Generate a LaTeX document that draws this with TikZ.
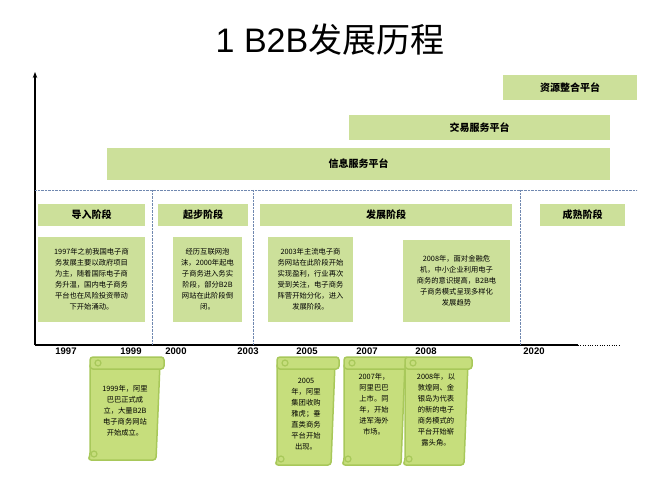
\documentclass[tikz,border=0pt]{standalone}
\usepackage{fontspec}
\setmainfont{Liberation Sans}
\newfontfamily\cjk{Noto Sans CJK SC}
\usetikzlibrary{arrows.meta}
\definecolor{gfill}{HTML}{CCE09A}
\definecolor{sfill}{HTML}{C6DE7C}
\definecolor{sline}{HTML}{A8C85A}
\definecolor{dline}{HTML}{7088B0}
\tikzset{
 bar/.style={fill=gfill,draw=none,inner sep=0,font=\cjk\fontsize{10}{12}\selectfont\bfseries},
 txt/.style={fill=gfill,draw=none,align=center,inner sep=0,font=\cjk\fontsize{7.3}{11}\selectfont},
 yr/.style={font=\fontsize{9.5}{10}\selectfont\bfseries,anchor=north,inner sep=0},
 scr/.style={fill=sfill,draw=sline,line width=1.5pt,rounded corners=3pt},
 stxt/.style={align=center,font=\cjk\fontsize{7.3}{11}\selectfont},
}
\begin{document}
\begin{tikzpicture}[x=1pt,y=-1pt]
\useasboundingbox (0,0) rectangle (663,478);
\node (title) at (330,40) {\fontsize{34}{38}\selectfont 1 B2B{\cjk 发展历程}};
% axes
\coordinate (o) at (35,345);
\coordinate (top) at (35,72);
\coordinate (xe) at (578,345);
\coordinate (xd) at (620,345);
\draw[line width=1.5pt,-{Stealth[length=6pt]}] (o) -- (top);
\draw[line width=1.2pt] (o) -- (xe);
\draw[dotted] (xe) -- (xd);
\coordinate (dl) at (35,190); \coordinate (dr) at (637,190);
\draw[densely dotted,dline] (dl) -- (dr);
\foreach \x/\n in {152/a,253/b,520/c}{
 \coordinate (t\n) at (\x,190); \coordinate (b\n) at (\x,345);
 \draw[densely dotted,dline] (t\n) -- (b\n);}
% bars
\node[bar,minimum width=134,minimum height=25] (p1) at (570,87.5) {资源整合平台};
\node[bar,minimum width=261,minimum height=25] (p2) at (479.5,127.5) {交易服务平台};
\node[bar,minimum width=503,minimum height=32] (p3) at (358.5,164) {信息服务平台};
% stages
\node[bar,minimum width=107,minimum height=22] (s1) at (91.5,215) {导入阶段};
\node[bar,minimum width=90,minimum height=22] (s2) at (203,215) {起步阶段};
\node[bar,minimum width=252,minimum height=22] (s3) at (386,215) {发展阶段};
\node[bar,minimum width=85,minimum height=22] (s4) at (582.5,215) {成熟阶段};
% texts
\node[txt,minimum width=107,minimum height=85] (d1) at (91.5,279.5) {1997年之前我国电子商\\务发展主要以政府项目\\为主，随着国际电子商\\务升温，国内电子商务\\平台也在风险投资带动\\下开始涌动。};
\node[txt,minimum width=69,minimum height=85] (d2) at (207.5,279.5) {经历互联网泡\\沫，2000年起电\\子商务进入务实\\阶段，部分B2B\\网站在此阶段倒\\闭。};
\node[txt,minimum width=85,minimum height=85] (d3) at (310.5,279.5) {2003年主流电子商\\务网站在此阶段开始\\实现盈利，行业再次\\受到关注，电子商务\\阵营开始分化，进入\\发展阶段。};
\node[txt,minimum width=107,minimum height=82] (d4) at (456.5,281) {2008年，面对金融危\\机，中小企业利用电子\\商务的意识提高，B2B电\\子商务模式呈现多样化\\发展趋势};
% years
\foreach \x/\y/\n in {66/1997/y1,131/1999/y2,176/2000/y3,248/2003/y4,307/2005/y5,367/2007/y6,426/2008/y7,534/2020/y8}
 \node[yr] (\n) at (\x,348) {\y};
% scrolls
\foreach \xa/\xb/\yb/\n in {88/160/460/r1,275/335/465/r2,342/405/465/r3,403/468/465/r4}{
 \draw[scr] (\xa+2,\yb-4) -- (\xa+2,363) -- (\xb,363) -- (\xb-4,\yb) -- (\xa,\yb) -- cycle;
 \draw[scr] (\xa+2,357) rectangle (\xb+4,369);
 \draw[sline,line width=1.2pt] (\xa+10,363) circle (3);
 \draw[sline,line width=1.2pt] (\xa+6,\yb-6) circle (3);
}
\node[stxt] (n1) at (125,411) {1999年，阿里\\巴巴正式成\\立，大量B2B\\电子商务网站\\开始成立。};
\node[stxt] (n2) at (306,414) {2005\\年，阿里\\集团收购\\雅虎；垂\\直类商务\\平台开始\\出现。};
\node[stxt] (n3) at (374,404) {2007年，\\阿里巴巴\\上市。同\\年，开始\\进军海外\\市场。};
\node[stxt] (n4) at (436,410) {2008年，以\\敦煌网、金\\银岛为代表\\的新的电子\\商务模式的\\平台开始崭\\露头角。};
\end{tikzpicture}
\end{document}
